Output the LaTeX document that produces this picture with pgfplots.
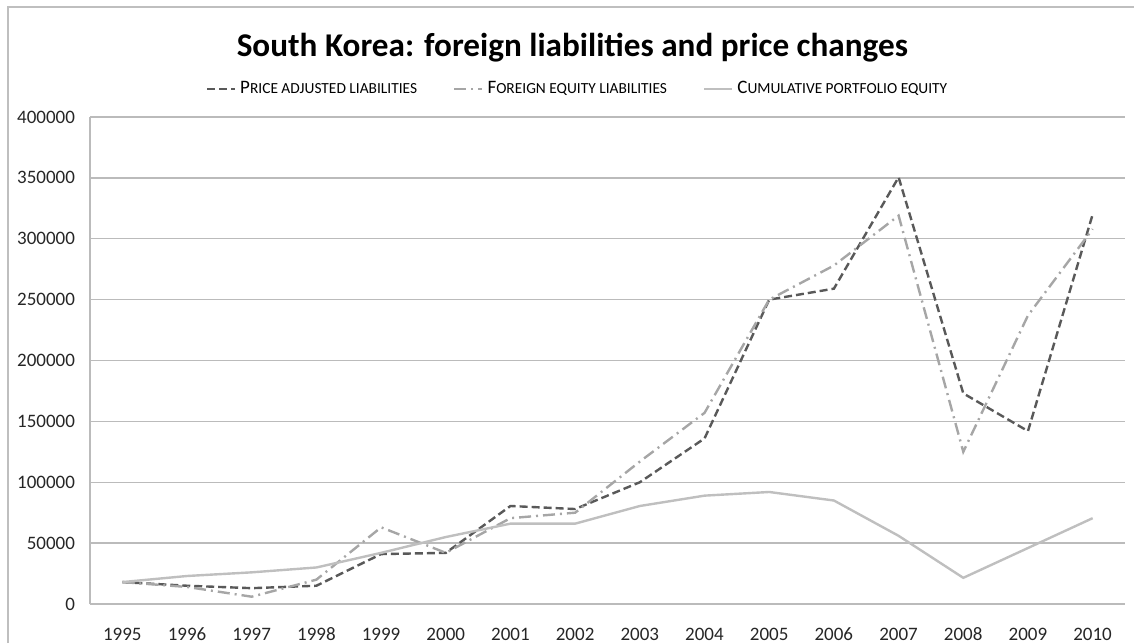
\documentclass[border=0pt]{standalone}
\usepackage{fontspec}
\setmainfont{Carlito}
\usepackage{pgfplots}
\pgfplotsset{compat=1.18}
\usepackage{pgfplotstable}

\definecolor{darkln}{HTML}{595959}
\definecolor{midln}{HTML}{A6A6A6}
\definecolor{lightln}{HTML}{BFBFBF}
\definecolor{gridc}{HTML}{BBBBBB}

% fake small caps: first letter full size, rest smaller capitals
\newcommand{\fsc}[2]{{\fontsize{9.5}{11}\selectfont #1\fontsize{7.7}{9}\selectfont #2}}

\pgfplotstableread{
year  price   foreign  cumul
1995  18000   18000    18000
1996  15000   14000    23000
1997  13000    6000    26000
1998  15000   20000    30000
1999  41000   63000    42000
2000  42000   42000    55000
2001  80500   70500    66000
2002  78000   75000    66000
2003 100000  117000    80500
2004 136000  157000    89000
2005 250000  250000    92000
2006 259000  278000    85000
2007 350500  319000    56000
2008 173000  125000    21500
2009 142000  237000    46000
2010 320000  308000    70500
}\koreadata

\begin{document}
\begin{tikzpicture}
  \useasboundingbox (0,0) rectangle (567pt,321.5pt);
  % chart area frame (only left and top edges visible)
  \draw[lightln, line width=1pt] (4pt,0) -- (4pt,318pt) -- (567pt,318pt);

  \begin{axis}[
      at={(45pt,19.5pt)}, anchor=south west,
      scale only axis,
      width=517.5pt, height=243.5pt,
      xmin=1994.5, xmax=2010.5,
      ymin=0, ymax=400000,
      xtick={1995,...,2010},
      xticklabels={1995,1996,1997,1998,1999,2000,2001,2002,2003,2004,2005,2006,2007,2008,2009,2010},
      ytick={0,50000,...,400000},
      yticklabels={0,50000,100000,150000,200000,250000,300000,350000,400000},
      scaled y ticks=false,
      tick label style={font=\fontsize{9.5}{11}\selectfont, text=black!85},
      major tick length=0pt,
      ymajorgrids,
      grid style={gridc, line width=0.75pt},
      axis x line*=bottom, axis y line*=left,
      axis line style={gridc, line width=0.75pt},
      yticklabel style={xshift=-4pt},
      xticklabel style={anchor=base, yshift=-18pt},
      clip=false,
      legend columns=3,
      legend style={
        at={(0.472,1)}, anchor=south, yshift=6pt,
        draw=none, fill=none,
        font=\fontsize{9.5}{11}\selectfont,
        /tikz/every even column/.append style={column sep=16pt},
      },
      legend image code/.code={\draw[#1] (0pt,0pt) -- (14pt,0pt);},
    ]
    \addplot[darkln, line width=1.2pt, dash pattern=on 4pt off 2pt]
      table[x=year, y=price] {\koreadata};
    \addlegendentry{\fsc{P}{RICE ADJUSTED LIABILITIES}}
    \addplot[midln, line width=1.2pt, dash pattern=on 6pt off 2.5pt on 1pt off 2.5pt]
      table[x=year, y=foreign] {\koreadata};
    \addlegendentry{\fsc{F}{OREIGN EQUITY LIABILITIES}}
    \addplot[lightln, line width=1.2pt]
      table[x=year, y=cumul] {\koreadata};
    \addlegendentry{\fsc{C}{UMULATIVE PORTFOLIO EQUITY}}

    \node[font=\bfseries\fontsize{16.6}{19}\selectfont, anchor=base]
      at (rel axis cs:0.466,1) [yshift=30pt] {South Korea: foreign liabilities and price changes};
  \end{axis}
\end{tikzpicture}
\end{document}
